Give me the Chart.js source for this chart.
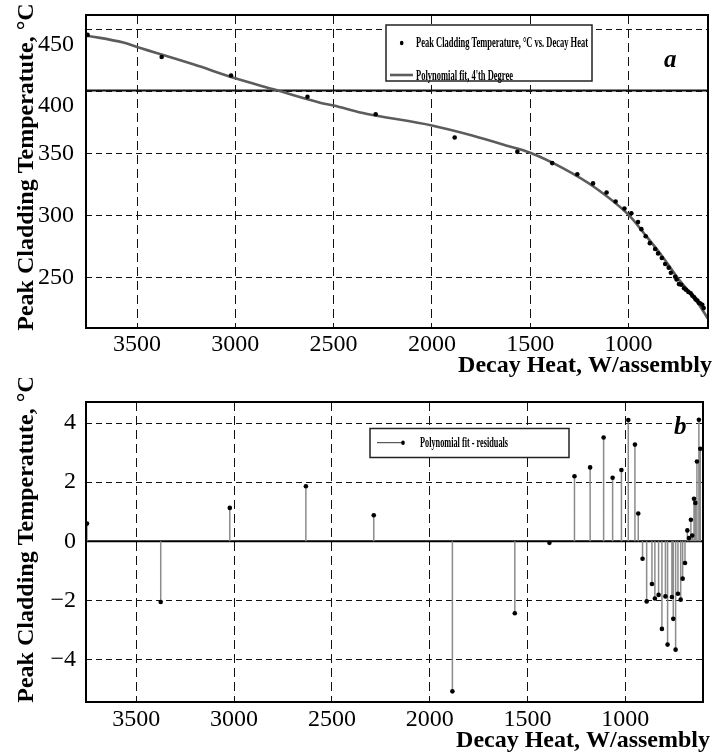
<!DOCTYPE html>
<html>
<head>
<meta charset="utf-8">
<script src="https://cdn.jsdelivr.net/npm/chart.js@4.4.1/dist/chart.umd.min.js"></script>
<style>
  html, body { margin: 0; padding: 0; background: #fff; }
  canvas { position: absolute; left: 0; }
  #top { top: 0; }
  #bot { top: 378px; }
</style>
</head>
<body>
<canvas id="top" width="724" height="378"></canvas>
<canvas id="bot" width="724" height="377"></canvas>
<script>
// ---- data ----
const heatX = [3752, 3375, 3022, 2633, 2286, 1884, 1565, 1388, 1260, 1180, 1111, 1065, 1020, 985, 951, 934, 912, 891, 864, 849, 830, 813, 795, 784, 762, 755, 743, 731, 717, 707, 695, 683, 675, 665, 658, 649, 642, 634, 624, 617];
const peakTemp = [445.9, 428.0, 413.1, 395.9, 381.8, 363.0, 351.4, 342.3, 333.3, 325.9, 318.5, 311.2, 305.6, 301.8, 294.6, 288.9, 283.2, 277.6, 272.8, 269.3, 265.6, 260.7, 257.8, 253.7, 250.4, 248.2, 244.5, 244.0, 241.1, 239.9, 238.2, 237.1, 235.2, 233.9, 232.1, 231.2, 229.4, 228.8, 227.8, 225.1];
const residuals = [0.6, -2.05, 1.13, 1.86, 0.88, -5.07, -2.43, -0.05, 2.2, 2.5, 3.51, 2.15, 2.41, 4.1, 3.27, 0.94, -0.59, -2.03, -1.44, -1.93, -1.81, -2.96, -1.86, -3.49, -1.88, -2.62, -3.66, -1.77, -1.97, -1.26, -0.73, 0.37, 0.11, 0.73, 0.2, 1.44, 1.3, 2.7, 4.11, 3.13];
const fitX = [3760, 3570, 3500, 3214, 3000, 2806, 2569, 2500, 2357, 2000, 1795, 1608, 1500, 1336, 1167, 1000, 915, 827, 742, 657, 595];
const fitT = [445.5, 439.7, 436.1, 422.1, 410.8, 401.9, 391.1, 388.9, 383.0, 372.7, 364.6, 355.9, 350.6, 338.4, 322.2, 300.6, 284.4, 266.8, 247.9, 231.7, 216.5];
const limitTemp = 401;
const xTickVals = [1000, 1500, 2000, 2500, 3000, 3500];
const yTickValsTop = [250, 300, 350, 400, 450];
const yTickValsBot = [-4, -2, 0, 2, 4];
const topRange = { xmin: 595, xmax: 3760, ymin: 209, ymax: 462 };
const botRange = { xmin: 603, xmax: 3757, ymin: -5.43, ymax: 4.71 };

const SERIF = "'Liberation Serif', 'Times New Roman', serif";
Chart.defaults.font.family = SERIF;
Chart.defaults.color = '#000';

function condText(ctx, text, x, yBase, width, font) {
  ctx.save();
  ctx.font = font;
  const w = ctx.measureText(text).width;
  ctx.translate(x, yBase);
  ctx.scale(width / w, 1);
  ctx.textAlign = 'left';
  ctx.textBaseline = 'alphabetic';
  ctx.fillStyle = '#000';
  ctx.fillText(text, 0, 0);
  ctx.restore();
}

function decorations(opts) {
  return {
    id: 'deco_' + opts.tag,
    afterDatasetsDraw(chart) {
      const ctx = chart.ctx;
      const a = chart.chartArea;
      ctx.save();
      ctx.strokeStyle = '#000';
      ctx.lineWidth = 2;
      ctx.strokeRect(a.left, a.top, a.right - a.left, a.bottom - a.top);
      ctx.restore();
      opts.legend(ctx);
      ctx.save();
      ctx.font = 'italic bold 25px ' + SERIF;
      ctx.fillStyle = '#000';
      ctx.textAlign = 'left';
      ctx.textBaseline = 'alphabetic';
      ctx.fillText(opts.letter, opts.letterX, opts.letterY);
      ctx.restore();
      ctx.save();
      ctx.font = 'bold 24px ' + SERIF;
      ctx.fillStyle = '#000';
      ctx.textAlign = 'right';
      ctx.textBaseline = 'alphabetic';
      ctx.fillText('Decay Heat, W/assembly', opts.xtX, opts.xtY);
      ctx.translate(opts.ytX, opts.ytY);
      ctx.rotate(-Math.PI / 2);
      ctx.textAlign = 'center';
      ctx.fillText('Peak Cladding Temperatute, °C', 0, 0);
      ctx.restore();
    }
  };
}

const tickFont = { family: SERIF, size: 24, weight: 'normal' };

function xScale(range, height, pad) {
  return {
    type: 'linear', reverse: true, min: range.xmin, max: range.xmax,
    afterBuildTicks: s => { s.ticks = xTickVals.map(v => ({ value: v })); },
    afterFit: s => { s.height = height; s.paddingLeft = 0; s.paddingRight = 0; },
    grid: { color: '#111', lineWidth: 1, drawTicks: false },
    border: { display: false, dash: [9, 5] },
    ticks: { padding: pad, font: tickFont, color: '#000', maxRotation: 0, callback: v => String(v) }
  };
}
function yScale(range, vals, pad, cb) {
  return {
    type: 'linear', min: range.ymin, max: range.ymax,
    afterBuildTicks: s => { s.ticks = vals.map(v => ({ value: v })); },
    afterFit: s => { s.width = 86; s.paddingTop = 0; s.paddingBottom = 0; },
    grid: { color: '#111', lineWidth: 1, drawTicks: false },
    border: { display: false, dash: [6, 4] },
    ticks: { padding: pad, font: tickFont, color: '#000', callback: cb }
  };
}

new Chart(document.getElementById('top'), {
  type: 'scatter',
  data: {
    datasets: [
      { label: 'Peak Cladding Temperature, °C vs. Decay Heat',
        data: heatX.map((x, i) => ({ x, y: peakTemp[i] })),
        backgroundColor: '#000', borderWidth: 0, pointRadius: 2.3 },
      { type: 'line', label: "Polynomial fit, 4'th Degree",
        data: fitX.map((x, i) => ({ x, y: fitT[i] })),
        borderColor: '#5c5c5c', borderWidth: 2.6, pointRadius: 0, cubicInterpolationMode: 'monotone' },
      { type: 'line', label: 'limit',
        data: [{ x: topRange.xmin, y: limitTemp }, { x: topRange.xmax, y: limitTemp }],
        borderColor: '#111', borderWidth: 2, pointRadius: 0 }
    ]
  },
  options: {
    responsive: false, animation: false, devicePixelRatio: 1,
    layout: { padding: { top: 15, right: 16, left: 0, bottom: 0 } },
    plugins: { legend: { display: false }, tooltip: { enabled: false } },
    scales: {
      x: xScale(topRange, 50, 2),
      // in the picture the two upper labels sit about half a line below their grid lines
      y: yScale(topRange, yTickValsTop, 12, v => (v >= 400 ? ['', String(v)] : String(v)))
    }
  },
  plugins: [decorations({
    tag: 'top', letter: 'a', letterX: 664, letterY: 67,
    xtX: 712, xtY: 372, ytX: 33, ytY: 167,
    legend(ctx) {
      ctx.save();
      ctx.fillStyle = '#fff';
      ctx.fillRect(386, 25, 206, 56);
      ctx.strokeStyle = '#222';
      ctx.lineWidth = 1.5;
      ctx.strokeRect(386, 25, 206, 56);
      ctx.fillStyle = '#000';
      ctx.beginPath();
      ctx.ellipse(401.7, 43, 1.8, 2.3, 0, 0, Math.PI * 2);
      ctx.fill();
      ctx.strokeStyle = '#5c5c5c';
      ctx.lineWidth = 2.6;
      ctx.beginPath();
      ctx.moveTo(390, 75); ctx.lineTo(413, 75);
      ctx.stroke();
      ctx.restore();
      condText(ctx, 'Peak Cladding Temperature, °C vs. Decay Heat', 416, 47, 172, 'bold 15px ' + SERIF);
      condText(ctx, "Polynomial fit, 4'th Degree", 416, 79.5, 97, 'bold 15px ' + SERIF);
    }
  })]
});

new Chart(document.getElementById('bot'), {
  type: 'scatter',
  data: {
    datasets: [
      { label: 'Polynomial fit - residuals',
        data: heatX.map((x, i) => ({ x, y: residuals[i] })),
        backgroundColor: '#000', borderWidth: 0, pointRadius: 2.3 },
      { type: 'line', label: 'stems',
        data: heatX.flatMap((x, i) => [{ x, y: 0 }, { x, y: residuals[i] }, { x, y: null }]),
        borderColor: '#8c8c8c', borderWidth: 1.5, pointRadius: 0, spanGaps: false },
      { type: 'line', label: 'zero',
        data: [{ x: botRange.xmin, y: 0 }, { x: botRange.xmax, y: 0 }],
        borderColor: '#000', borderWidth: 2, pointRadius: 0 }
    ]
  },
  options: {
    responsive: false, animation: false, devicePixelRatio: 1,
    layout: { padding: { top: 24, right: 21, left: 0, bottom: 0 } },
    plugins: { legend: { display: false }, tooltip: { enabled: false } },
    scales: {
      x: xScale(botRange, 53, 3),
      y: yScale(botRange, yTickValsBot, 10, v => (v < 0 ? '\u2212' + Math.abs(v) : String(v)))
    }
  },
  plugins: [decorations({
    tag: 'bot', letter: 'b', letterX: 674, letterY: 56,
    xtX: 710, xtY: 369, ytX: 33, ytY: 161,
    legend(ctx) {
      ctx.save();
      ctx.fillStyle = '#fff';
      ctx.fillRect(370, 50.5, 199, 29);
      ctx.strokeStyle = '#222';
      ctx.lineWidth = 1.5;
      ctx.strokeRect(370, 50.5, 199, 29);
      ctx.strokeStyle = '#333';
      ctx.lineWidth = 1;
      ctx.beginPath();
      ctx.moveTo(377, 64.7); ctx.lineTo(403, 64.7);
      ctx.stroke();
      ctx.fillStyle = '#000';
      ctx.beginPath();
      ctx.ellipse(403, 64.7, 1.8, 2.3, 0, 0, Math.PI * 2);
      ctx.fill();
      ctx.restore();
      condText(ctx, 'Polynomial fit - residuals', 420, 69, 88, 'bold 14px ' + SERIF);
    }
  })]
});
</script>
</body>
</html>
